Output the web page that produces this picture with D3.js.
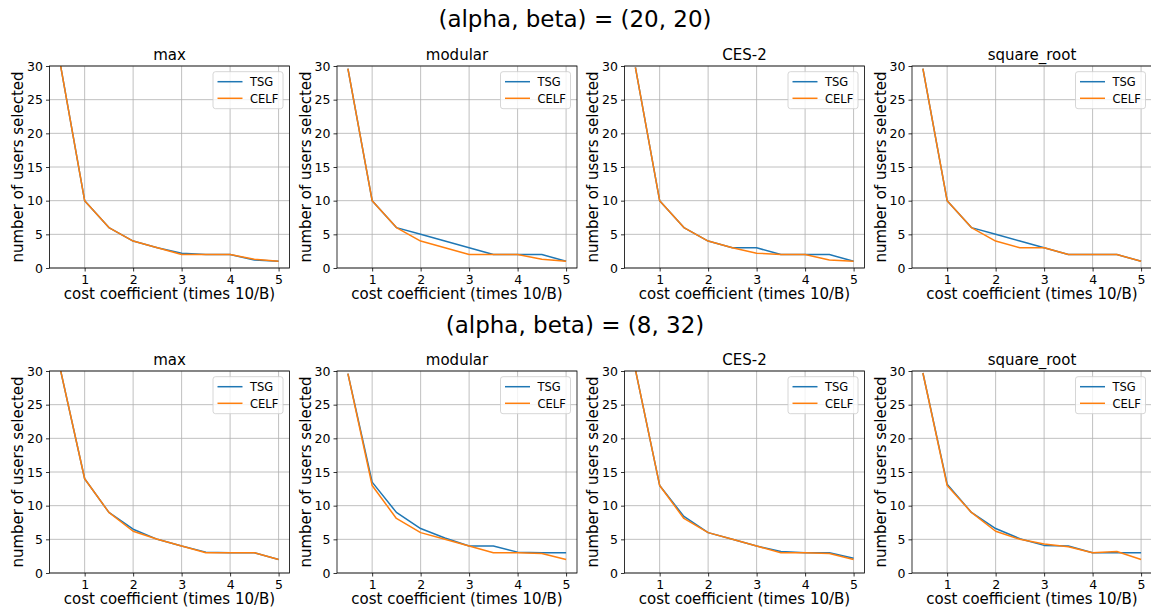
<!DOCTYPE html>
<html>
<head>
<meta charset="utf-8">
<script src="https://cdn.jsdelivr.net/npm/d3@7"></script>
<style>
  body { margin: 0; background: #fff; }
  svg { display: block; font-family: "DejaVu Sans", sans-serif; }
</style>
</head>
<body>
<svg id="chart" width="1151" height="611"></svg>
<script>
// ---------------- DATA ----------------
const costCoefficients = [0.5, 1, 1.5, 2, 2.5, 3, 3.5, 4, 4.5, 5];
const panelNames = ["max", "modular", "CES-2", "square_root"];
const rowTitles = ["(alpha, beta) = (20, 20)", "(alpha, beta) = (8, 32)"];
const seriesNames = ["TSG", "CELF"];
const xTickValues = [1, 2, 3, 4, 5];
const yTickValues = [0, 5, 10, 15, 20, 25, 30];
const xLabel = "cost coefficient (times 10/B)";
const yLabel = "number of users selected";

// row 1: (alpha, beta) = (20, 20)
const tsg_20_20_max        = [30.2, 10, 6, 4, 3, 2.2, 2, 2, 1.2, 1];
const celf_20_20_max       = [30.2, 10, 6, 4, 3, 2, 2, 2, 1.3, 1];
const tsg_20_20_modular    = [29.6, 10, 6, 5, 4, 3, 2, 2, 2, 1];
const celf_20_20_modular   = [29.6, 10, 6, 4, 3, 2, 2, 2, 1.3, 1];
const tsg_20_20_ces2       = [29.8, 10, 6, 4, 3, 3, 2, 2, 2, 1];
const celf_20_20_ces2      = [29.8, 10, 6, 4, 3, 2.2, 2, 2, 1.2, 1];
const tsg_20_20_sqrt       = [29.6, 10, 6, 5, 4, 3, 2, 2, 2, 1];
const celf_20_20_sqrt      = [29.6, 10, 6, 4, 3, 3, 2, 2, 2, 1];

// row 2: (alpha, beta) = (8, 32)
const tsg_8_32_max         = [30.2, 14, 9, 6.5, 5, 4, 3.1, 3, 3, 2];
const celf_8_32_max        = [30.2, 14, 9, 6.2, 5, 4, 3, 3, 3, 2];
const tsg_8_32_modular     = [29.6, 13.5, 9, 6.6, 5.2, 4, 4, 3.1, 3, 3];
const celf_8_32_modular    = [29.6, 13, 8.1, 6, 5, 4, 3, 3, 2.9, 2];
const tsg_8_32_ces2        = [30.2, 13, 8.4, 6, 5, 4, 3.2, 3, 3, 2.2];
const celf_8_32_ces2       = [30.2, 13, 8.1, 6, 5, 4, 3, 3, 2.9, 2];
const tsg_8_32_sqrt        = [29.7, 13.2, 9, 6.6, 5.1, 4.1, 4, 3, 3, 3];
const celf_8_32_sqrt       = [29.7, 13, 9, 6.2, 5, 4.3, 3.9, 3, 3.2, 2];

const rowsData = [
  [[tsg_20_20_max, celf_20_20_max], [tsg_20_20_modular, celf_20_20_modular],
   [tsg_20_20_ces2, celf_20_20_ces2], [tsg_20_20_sqrt, celf_20_20_sqrt]],
  [[tsg_8_32_max, celf_8_32_max], [tsg_8_32_modular, celf_8_32_modular],
   [tsg_8_32_ces2, celf_8_32_ces2], [tsg_8_32_sqrt, celf_8_32_sqrt]]
];

// ---------------- LAYOUT / STYLE ----------------
const colors = ["#1f77b4", "#ff7f0e"];
const panelLeft0 = 49.5, panelStep = 287.5, panelW = 240;
const rowTops = [66, 371], panelH = 202;
const suptitleY = [27, 333];

const svg = d3.select("#chart");

rowTitles.forEach((t, r) => {
  svg.append("text")
    .attr("x", 575).attr("y", suptitleY[r])
    .attr("text-anchor", "middle")
    .attr("font-size", 23).attr("fill", "#000")
    .text(t);
});

rowsData.forEach((row, r) => {
  row.forEach((pair, c) => {
    const left = panelLeft0 + c * panelStep;
    const top = rowTops[r];
    const x = d3.scaleLinear().domain([0.275, 5.225]).range([left, left + panelW]);
    const y = d3.scaleLinear().domain([0, 30]).range([top + panelH, top]);
    const g = svg.append("g");
    const clipId = `clip-${r}-${c}`;
    svg.append("clipPath").attr("id", clipId)
      .append("rect").attr("x", left).attr("y", top).attr("width", panelW).attr("height", panelH);

    // grid
    g.append("g").selectAll("line").data(xTickValues).join("line")
      .attr("x1", d => x(d)).attr("x2", d => x(d))
      .attr("y1", top).attr("y2", top + panelH)
      .attr("stroke", "#b0b0b0").attr("stroke-width", 0.8);
    g.append("g").selectAll("line").data(yTickValues).join("line")
      .attr("x1", left).attr("x2", left + panelW)
      .attr("y1", d => y(d)).attr("y2", d => y(d))
      .attr("stroke", "#b0b0b0").attr("stroke-width", 0.8);

    // lines
    const line = d3.line().x((d, i) => x(costCoefficients[i])).y(d => y(d));
    pair.forEach((vals, s) => {
      g.append("path").datum(vals)
        .attr("clip-path", `url(#${clipId})`)
        .attr("d", line)
        .attr("fill", "none")
        .attr("stroke", colors[s])
        .attr("stroke-width", 1.5)
        .attr("stroke-linejoin", "round");
    });

    // axes
    const xAxis = d3.axisBottom(x).tickValues(xTickValues).tickSize(3.5).tickPadding(3.5).tickFormat(d3.format("d"));
    const yAxis = d3.axisLeft(y).tickValues(yTickValues).tickSize(3.5).tickPadding(3).tickFormat(d3.format("d"));
    const gx = g.append("g").attr("transform", `translate(0,${top + panelH})`).call(xAxis);
    const gy = g.append("g").attr("transform", `translate(${left},0)`).call(yAxis);
    [gx, gy].forEach(a => {
      a.select(".domain").remove();
      a.selectAll("text").attr("font-size", 12.5).attr("fill", "#000").attr("font-family", "DejaVu Sans, sans-serif");
      a.selectAll("line").attr("stroke", "#000").attr("stroke-width", 0.8);
    });

    // frame
    g.append("rect").attr("x", left).attr("y", top).attr("width", panelW).attr("height", panelH)
      .attr("fill", "none").attr("stroke", "#000").attr("stroke-width", 0.8);

    // title
    g.append("text").attr("x", left + panelW / 2).attr("y", top - 6)
      .attr("text-anchor", "middle").attr("font-size", 15).attr("fill", "#000")
      .text(panelNames[c]);

    // x label
    g.append("text").attr("x", left + panelW / 2).attr("y", top + panelH + 31)
      .attr("text-anchor", "middle").attr("font-size", 15).attr("fill", "#000")
      .text(xLabel);

    // y label
    g.append("text")
      .attr("transform", `translate(${left - 26.5},${top + panelH / 2}) rotate(-90)`)
      .attr("text-anchor", "middle").attr("font-size", 15).attr("fill", "#000")
      .text(yLabel);

    // legend
    const lw = 70, lh = 37;
    const lx = left + panelW - 6.5 - lw, ly = top + 5.7;
    const lg = g.append("g");
    lg.append("rect").attr("x", lx).attr("y", ly).attr("width", lw).attr("height", lh)
      .attr("rx", 2.5).attr("fill", "#fff").attr("fill-opacity", 0.8)
      .attr("stroke", "#cccccc").attr("stroke-width", 0.8);
    seriesNames.forEach((n, s) => {
      const yy = ly + 10 + s * 16.6;
      lg.append("line").attr("x1", lx + 4.5).attr("x2", lx + 29.5)
        .attr("y1", yy).attr("y2", yy)
        .attr("stroke", colors[s]).attr("stroke-width", 1.5);
      lg.append("text").attr("x", lx + 37).attr("y", yy + 4.2)
        .attr("font-size", 11.5).attr("fill", "#000").text(n);
    });
  });
});
</script>
</body>
</html>
